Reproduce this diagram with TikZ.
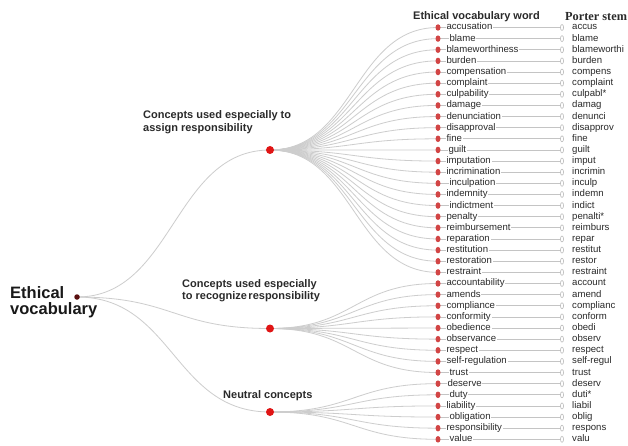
\documentclass[tikz,border=0pt]{standalone}
\usepackage{fontspec}
\setmainfont{Liberation Sans}
\newfontfamily\stemfont{Liberation Serif}
\usetikzlibrary{calc,shapes.geometric}
\definecolor{linkgray}{HTML}{CDCDCD}
\definecolor{leafline}{HTML}{C4C4C4}
\definecolor{leafred}{HTML}{D24545}
\definecolor{catred}{HTML}{E01515}
\definecolor{rootred}{HTML}{5A1010}
\definecolor{txt}{HTML}{2A2A2A}
\definecolor{stemgray}{HTML}{BDBDBD}
\pgfdeclarelayer{bg}
\pgfdeclarelayer{paper}
\pgfsetlayers{paper,bg,main}
\tikzset{
  rootdot/.style={circle,fill=rootred,inner sep=0pt,minimum size=5.5pt},
  catdot/.style={circle,fill=catred,inner sep=0pt,minimum size=8pt},
  leafdot/.style={ellipse,fill=leafred,inner sep=0pt,minimum width=5pt,minimum height=6.5pt},
  stemdot/.style={ellipse,draw=stemgray,fill=white,line width=0.6pt,inner sep=0pt,minimum width=3.2pt,minimum height=6pt},
  wordtxt/.style={anchor=west,fill=white,inner sep=0.8pt,text height=7pt,text depth=2pt,text=txt,font=\fontsize{9.6}{10}\selectfont},
  stemtxt/.style={anchor=west,inner sep=0pt,text height=7pt,text depth=2pt,text=txt,font=\fontsize{9.6}{10}\selectfont},
  catlabel/.style={anchor=west,inner sep=0pt,align=left,text=txt,font=\bfseries\fontsize{11}{12}\selectfont},
  rootlbl/.style={anchor=base west,inner sep=0pt,text=black!90,font=\bfseries\fontsize{16.5}{14}\selectfont},
  link/.style={draw=linkgray,line width=0.8pt},
  leaflink/.style={draw=leafline,line width=0.7pt},
  diag/.style={to path={let \p1=(\tikztostart), \p2=(\tikztotarget) in .. controls ({(\x1+\x2)/2},\y1) and ({(\x1+\x2)/2},\y2) .. (\tikztotarget)}}
}
\begin{document}
\begin{tikzpicture}[x=1pt,y=-1pt]
\useasboundingbox (0,0) rectangle (628,446);
\begin{pgfonlayer}{paper}
\fill[white] (0,0) rectangle (628,446);
\end{pgfonlayer}

% headers
\node[anchor=west,inner sep=0pt,text=txt,font=\bfseries\fontsize{11}{12}\selectfont] (hword) at (413,16.5) {Ethical vocabulary word};
\node[anchor=west,inner sep=0pt,text=txt,font=\stemfont\bfseries\fontsize{12.3}{13}\selectfont] (hstem) at (565,16.5) {Porter stem};

% root and categories
\node[rootdot] (root) at (77,297) {};
\node[rootlbl] (rootlabel1) at (10,298.5) {Ethical};
\node[rootlbl] (rootlabel2) at (10,314) {vocabulary};
\node[catdot] (c1) at (270,150) {};
\node[catdot] (c2) at (270,328.5) {};
\node[catdot] (c3) at (270,412) {};
\node[catlabel,font=\bfseries\fontsize{11}{12.5}\selectfont] (l1) at (143,122) {Concepts used especially to\\assign responsibility};
\node[catlabel,font=\bfseries\fontsize{11}{11.5}\selectfont] (l2) at (182,290.5) {Concepts used especially\\to recognize\hspace{1.5pt}responsibility};
\node[catlabel] (l3) at (223,396) {Neutral concepts};

\begin{pgfonlayer}{bg}
\foreach \c in {c1,c2,c3} { \path[link] (root.center) to[diag] (\c.center); }
\end{pgfonlayer}

\foreach \w/\s/\o [count=\i] in {
 accusation/accus/0, blame/blame/3, blameworthiness/blameworthi/0, burden/burden/0,
 compensation/compens/0, complaint/complaint/0, culpability/culpabl*/0, damage/damag/0,
 denunciation/denunci/0, disapproval/disapprov/0, fine/fine/0, guilt/guilt/2,
 imputation/imput/0, incrimination/incrimin/0, inculpation/inculp/3, indemnity/indemn/0,
 indictment/indict/3, penalty/penalti*/0, reimbursement/reimburs/0, reparation/repar/0,
 restitution/restitut/0, restoration/restor/0, restraint/restraint/0,
 accountability/account/0, amends/amend/0, compliance/complianc/0, conformity/conform/0,
 obedience/obedi/0, observance/observ/0, respect/respect/0, self-regulation/self-regul/0,
 trust/trust/3, deserve/deserv/1, duty/duti*/3, liability/liabil/0, obligation/oblig/3,
 responsibility/respons/0, value/valu/3}
{
  \pgfmathsetmacro\yy{27.5+(\i-1)*11.13}
  \ifnum\i<24 \def\parnode{c1}\else\ifnum\i<33 \def\parnode{c2}\else\def\parnode{c3}\fi\fi
  \node[leafdot] (d\i) at (438,\yy) {};
  \node[stemdot] (e\i) at (562,\yy) {};
  \node[wordtxt] (w\i) at (445.5+\o,\yy) {\w};
  \node[stemtxt] (s\i) at (572,\yy) {\s};
  \begin{pgfonlayer}{bg}
    \path[link] (\parnode.center) to[diag] (d\i.center);
    \path[leaflink] (d\i.center) -- (e\i.center);
  \end{pgfonlayer}
}
\end{tikzpicture}
\end{document}
